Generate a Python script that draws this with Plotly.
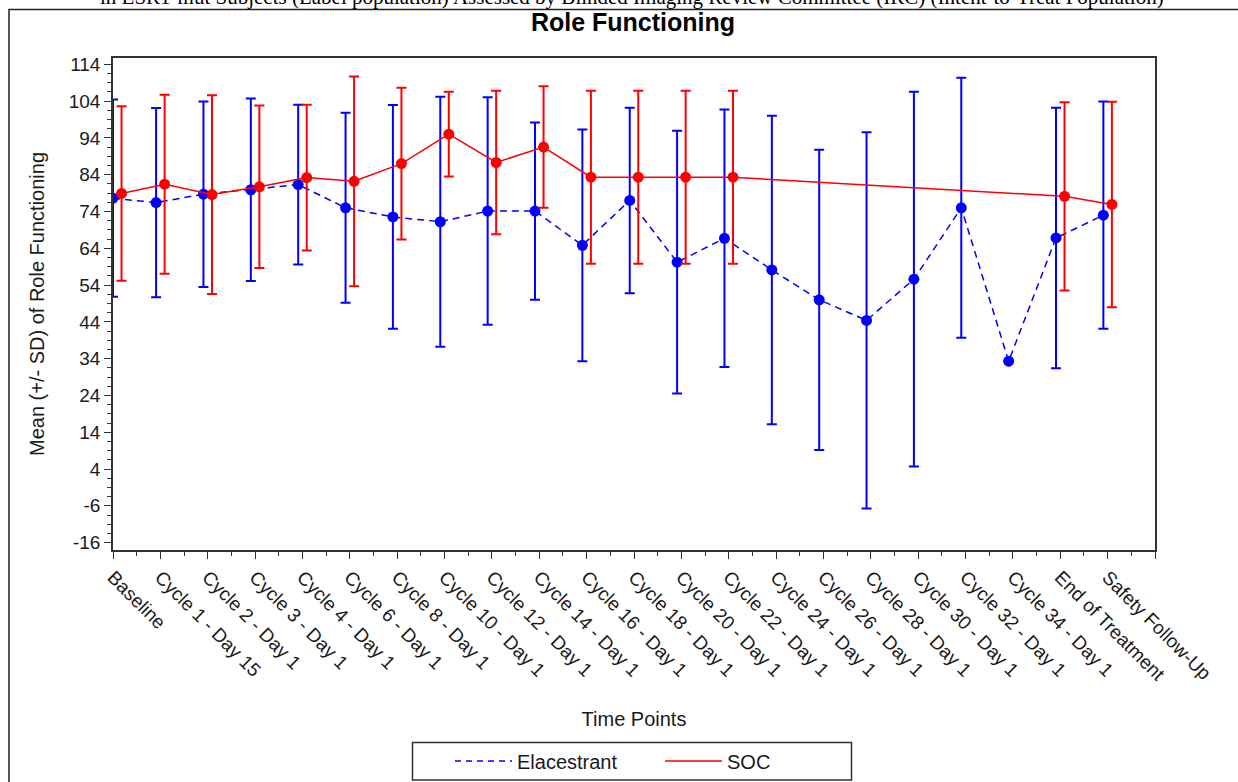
import numpy as np
import plotly.graph_objects as go

# ---- data -------------------------------------------------------------
time_points = [
    "Baseline", "Cycle 1 - Day 15", "Cycle 2 - Day 1", "Cycle 3 - Day 1",
    "Cycle 4 - Day 1", "Cycle 6 - Day 1", "Cycle 8 - Day 1", "Cycle 10 - Day 1",
    "Cycle 12 - Day 1", "Cycle 14 - Day 1", "Cycle 16 - Day 1", "Cycle 18 - Day 1",
    "Cycle 20 - Day 1", "Cycle 22 - Day 1", "Cycle 24 - Day 1", "Cycle 26 - Day 1",
    "Cycle 28 - Day 1", "Cycle 30 - Day 1", "Cycle 32 - Day 1", "Cycle 34 - Day 1",
    "End of Treatment", "Safety Follow-Up",
]

elacestrant_mean = [77.6, 76.4, 78.7, 79.9, 81.3, 75.0, 72.5, 71.2, 74.1, 74.1, 64.8,
                    77.0, 60.2, 66.7, 58.1, 50.0, 44.4, 55.6, 75.0, 33.3, 66.8, 73.0]
elacestrant_sd = [26.8, 25.7, 25.2, 24.8, 21.7, 25.8, 30.4, 34.0, 30.9, 24.1, 31.5,
                  25.2, 35.7, 35.0, 41.9, 40.8, 51.1, 50.9, 35.3, None, 35.4, 30.9]

soc_mean = [78.9, 81.4, 78.6, 80.7, 83.2, 82.2, 87.0, 95.0, 87.3, 91.5, 83.3,
            83.3, 83.3, 83.3, None, None, None, None, None, None, 78.1, 75.9]
soc_sd = [23.7, 24.3, 27.0, 22.1, 19.8, 28.5, 20.6, 11.5, 19.5, 16.5, 23.5,
          23.5, 23.5, 23.5, None, None, None, None, None, None, 25.6, 27.9]

y_ticks = [-16, -6, 4, 14, 24, 34, 44, 54, 64, 74, 84, 94, 104, 114]
y_tick_labels = [str(v) for v in y_ticks]

# ---- layout geometry (pixels) ------------------------------------------
W, H = 1238, 782
PL, PR, PT, PB = 113, 1155, 58, 550          # plot-area edges
X_RANGE = [0, 22]
Y_RANGE = [-18.0, 115.7]


def px_x(px):
    return (px - PL) / (PR - PL)


def px_y(py):
    return (PB - py) / (PB - PT)


# groups are dodged around each time point, kept inside the axis
idx = np.arange(len(time_points), dtype=float)
dodge = 0.09
shift = np.maximum(0.0, dodge - idx)
x_ela = idx - dodge + shift
x_soc = idx + dodge + shift

BLUE = "#0000FF"
RED = "#FF0000"
FONT = "Liberation Sans, Arial, sans-serif"
TXT = "#1a1a1a"

fig = go.Figure()

fig.add_trace(go.Scatter(
    x=x_ela, y=elacestrant_mean, name="Elacestrant", mode="lines+markers",
    line=dict(color=BLUE, width=1.5, dash="7px,5px"),
    marker=dict(color=BLUE, size=11),
    error_y=dict(type="data", array=elacestrant_sd, visible=True,
                 color=BLUE, thickness=2, width=5),
    showlegend=False, connectgaps=True,
))
fig.add_trace(go.Scatter(
    x=x_soc, y=soc_mean, name="SOC", mode="lines+markers",
    line=dict(color=RED, width=1.5),
    marker=dict(color=RED, size=11),
    error_y=dict(type="data", array=soc_sd, visible=True,
                 color=RED, thickness=2, width=5),
    showlegend=False, connectgaps=True,
))

# legend entries (line only)
fig.add_trace(go.Scatter(x=[None], y=[None], mode="lines", name="Elacestrant",
                         line=dict(color=BLUE, width=1.5, dash="6px,5px")))
fig.add_trace(go.Scatter(x=[None], y=[None], mode="lines", name="SOC",
                         line=dict(color=RED, width=1.5)))

fig.update_layout(
    width=W, height=H,
    margin=dict(l=PL, r=W - PR, t=PT, b=H - PB, autoexpand=False),
    paper_bgcolor="white", plot_bgcolor="white",
    font=dict(family=FONT, size=19, color=TXT),
    title=dict(text="<b>Role Functioning</b>", x=633 / W, xref="container",
               y=1 - 22 / H, yref="container", xanchor="center", yanchor="middle",
               font=dict(family=FONT, size=25, color="#000")),
    legend=dict(orientation="h", x=px_x(450), y=px_y(761), xanchor="left",
                yanchor="middle", font=dict(family=FONT, size=20, color=TXT),
                bgcolor="rgba(0,0,0,0)", itemwidth=57, entrywidth=138,
                entrywidthmode="pixels", traceorder="normal"),
)

fig.update_xaxes(
    range=X_RANGE, showgrid=False, zeroline=False,
    showline=True, linecolor="#333", linewidth=1.5, mirror=True,
    tickmode="array", tickvals=list(range(len(time_points) + 1)),
    ticktext=time_points + [""], tickangle=45,
    ticks="outside", ticklen=7, tickwidth=1.2, tickcolor="#333",
    tickfont=dict(family=FONT, size=19, color=TXT),
    minor=dict(tickmode="linear", tick0=0, dtick=0.5, ticks="outside",
               ticklen=4, tickwidth=1.2, tickcolor="#333"),
    title=dict(text="Time Points", standoff=28,
               font=dict(family=FONT, size=20, color=TXT)),
)
fig.update_yaxes(
    range=Y_RANGE, showgrid=False, zeroline=False,
    showline=True, linecolor="#333", linewidth=1.5, mirror=True,
    tickmode="array", tickvals=y_ticks, ticktext=y_tick_labels,
    ticks="outside", ticklen=7, tickwidth=1.2, tickcolor="#333",
    tickfont=dict(family=FONT, size=19, color=TXT),
    minor=dict(tickmode="linear", tick0=4, dtick=2.5, ticks="outside",
               ticklen=4, tickwidth=1.2, tickcolor="#333"),
    title=dict(text="Mean (+/- SD) of Role Functioning", standoff=19,
               font=dict(family=FONT, size=20, color=TXT)),
)

# outer frame and legend box
fig.add_shape(type="rect", xref="paper", yref="paper",
              x0=px_x(9), x1=px_x(1250), y0=px_y(800), y1=px_y(9.5),
              line=dict(color="#222", width=1.5), fillcolor="rgba(0,0,0,0)")
fig.add_shape(type="rect", xref="paper", yref="paper",
              x0=px_x(412.5), x1=px_x(851.5), y0=px_y(780), y1=px_y(742.5),
              line=dict(color="#333", width=1.5), fillcolor="rgba(0,0,0,0)")

# running header line above the frame
fig.add_annotation(
    text="in ESR1-mut Subjects (Label population) Assessed by Blinded Imaging "
         "Review Committee (IRC) (Intent-to-Treat Population)",
    xref="paper", yref="paper", x=px_x(632), y=px_y(-2.5),
    xanchor="center", yanchor="middle", showarrow=False,
    font=dict(family="Liberation Serif, Times New Roman, serif", size=21, color="#000"),
)

fig.write_html("out.html")
